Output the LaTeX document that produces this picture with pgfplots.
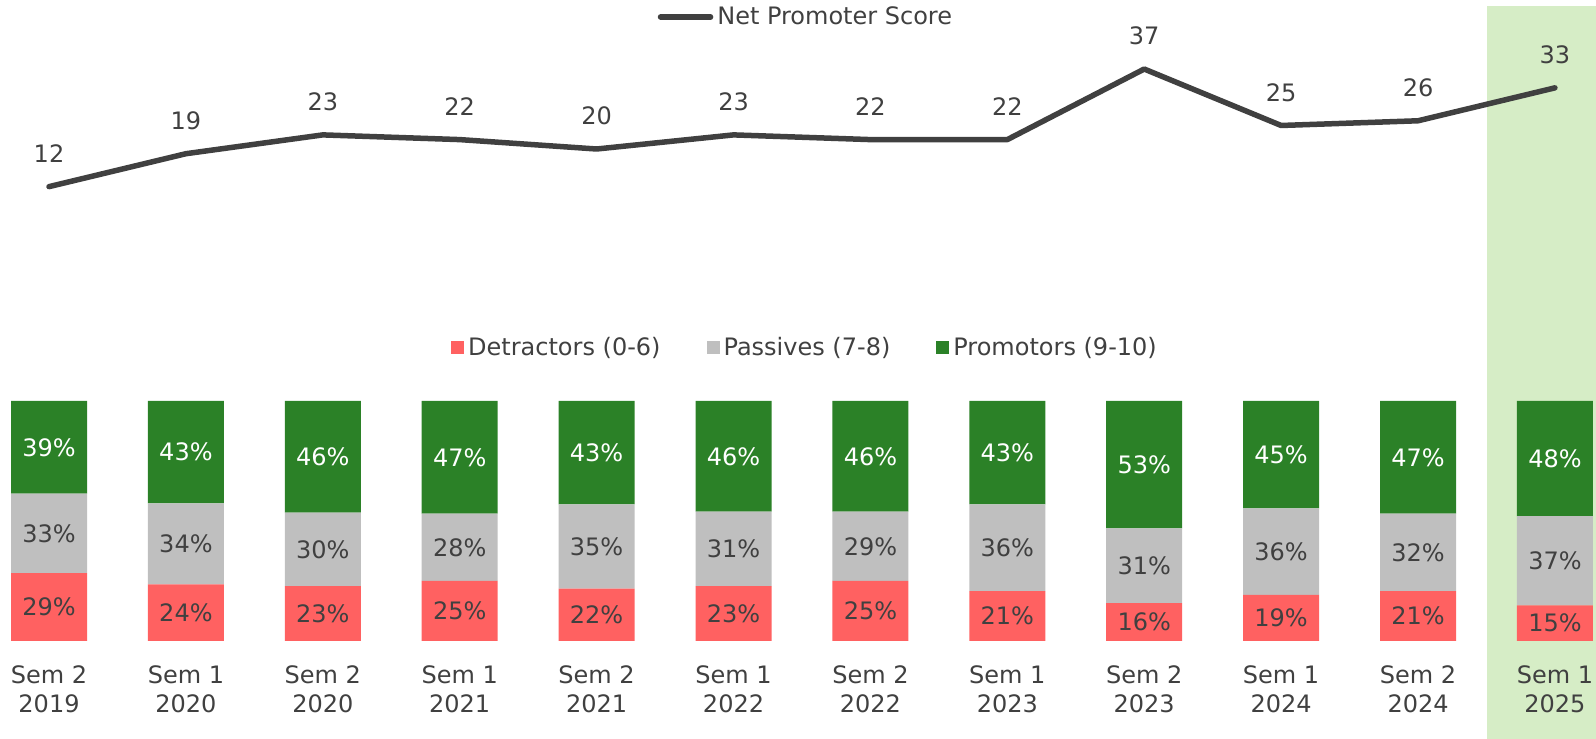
\documentclass[border=0pt]{standalone}
\usepackage{fontspec}
\setmainfont{DejaVu Sans}
\usepackage{pgfplots}
\usepackage{pgfplotstable}
\pgfplotsset{compat=1.18}

\definecolor{txt}{HTML}{404040}
\definecolor{npsline}{HTML}{404040}
\definecolor{detr}{HTML}{FF6161}
\definecolor{pass}{HTML}{BFBFBF}
\definecolor{prom}{HTML}{2B8127}
\definecolor{hilite}{HTML}{D6EDC6}

% measured shares (bar heights) and the printed labels
\pgfplotstableread{
x  det   pas   pro   ld lp lg nps
0  28.3  33.1  38.6  29 33 39 12
1  23.6  33.75 42.65 24 34 43 19
2  22.9  30.6  46.5  23 30 46 23
3  25.0  28.1  46.9  25 28 47 22
4  21.8  35.1  43.1  22 35 43 20
5  22.9  31.0  46.1  23 31 46 23
6  25.0  28.9  46.1  25 29 46 22
7  20.8  36.1  43.1  21 36 43 22
8  15.8  31.1  53.1  16 31 53 37
9  19.2  36.1  44.7  19 36 45 25
10 20.8  32.3  46.9  21 32 47 26
11 14.8  37.2  48.0  15 37 48 33
}\npsdata

\pgfplotsset{
  base/.style={
    scale only axis, width=798pt,
    xmin=-0.358, xmax=11.3,
    anchor=south west,
    font=\fontsize{12}{14.5}\selectfont,
    /pgf/number format/assume math mode=true,
  },
}

\begin{document}
\begin{tikzpicture}
\path[use as bounding box] (0,0) rectangle (798pt,369.5pt);

% highlight of the latest semester
\begin{axis}[base, at={(0pt,0pt)}, height=369.5pt, ymin=0, ymax=739, hide axis]
\addplot[fill=hilite, draw=none] coordinates {(10.5,0) (10.5,733) (11.5,733) (11.5,0)} -- cycle;
\end{axis}

% NPS line
\begin{axis}[base, at={(0pt,247.95pt)}, height=118.55pt, ymin=0, ymax=50.4,
  hide axis, clip=false,
  nodes near coords, point meta=explicit symbolic,
  every node near coord/.append style={anchor=center, yshift=16.5pt, text=txt},
  legend style={at={(0.5056,0.9536)}, anchor=center, draw=none, fill=none, text=txt},
  legend image code/.code={\draw[#1] (0pt,0pt) -- (25pt,0pt);},
]
\addplot[npsline, line width=2.75pt, line cap=round, line join=round]
  table[x=x, y=nps, meta=nps] {\npsdata};
\addlegendentry{Net Promoter Score}
\end{axis}

% stacked bars
\begin{axis}[base, at={(0pt,49pt)}, height=120pt, ymin=0, ymax=100,
  ybar stacked, bar width=38pt,
  axis y line=none, axis x line*=bottom, x axis line style={draw=none},
  xtick={0,...,11}, xtick style={draw=none}, major tick length=0pt,
  xticklabels={{Sem 2\\2019},{Sem 1\\2020},{Sem 2\\2020},{Sem 1\\2021},{Sem 2\\2021},{Sem 1\\2022},
    {Sem 2\\2022},{Sem 1\\2023},{Sem 2\\2023},{Sem 1\\2024},{Sem 2\\2024},{Sem 1\\2025}},
  xticklabel style={align=center, text=txt, yshift=-9pt},
  legend columns=3,
  legend style={at={(0.505,1.221)}, anchor=center, draw=none, fill=none, text=txt,
    /tikz/every even column/.append style={column sep=21pt}},
  legend image code/.code={\fill[#1] (0pt,-3.25pt) rectangle (6.5pt,3.25pt);},
]
\addplot[fill=detr, draw=none] table[x=x, y=det] {\npsdata};
\addlegendentry{Detractors (0-6)}
\addplot[fill=pass, draw=none] table[x=x, y=pas] {\npsdata};
\addlegendentry{Passives (7-8)}
\addplot[fill=prom, draw=none] table[x=x, y=pro] {\npsdata};
\addlegendentry{Promotors (9-10)}
\end{axis}

% segment labels
\begin{axis}[base, at={(0pt,49pt)}, height=120pt, ymin=0, ymax=100,
  hide axis, clip=false,
  nodes near coords={\pgfplotspointmeta\%}, point meta=explicit symbolic,
  every node near coord/.append style={anchor=center, text=txt},
]
\addplot[draw=none, mark=none] table[x=x, y expr=\thisrow{det}/2, meta=ld] {\npsdata};
\addplot[draw=none, mark=none] table[x=x, y expr=\thisrow{det}+\thisrow{pas}/2, meta=lp] {\npsdata};
\addplot[draw=none, mark=none, nodes near coords style={text=white}]
  table[x=x, y expr=\thisrow{det}+\thisrow{pas}+\thisrow{pro}/2, meta=lg] {\npsdata};
\end{axis}
\end{tikzpicture}
\end{document}
